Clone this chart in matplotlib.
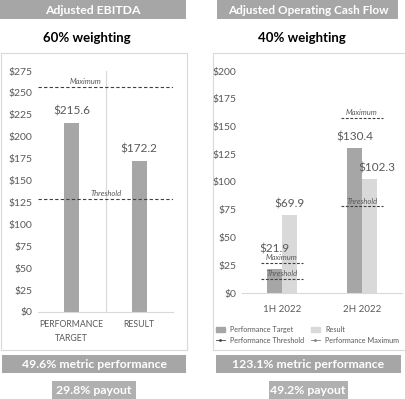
import matplotlib.pyplot as plt
from matplotlib.patches import Rectangle, Patch
from matplotlib.lines import Line2D

plt.rcParams['font.family'] = ['Lato', 'DejaVu Sans']

# EBITDA panel
ebitda_cats = ['PERFORMANCE\nTARGET', 'RESULT']
ebitda_vals = [215.6, 172.2]
ebitda_max = 257
ebitda_thr = 129

# operating cash flow panel
ocf_cats = ['1H 2022', '2H 2022']
ocf_target = [21.9, 130.4]
ocf_result = [69.9, 102.3]
ocf_thr = [13, 78]
ocf_max = [27, 158]

W, H = 405, 399
DARK = '#a6a6a6'
LIGHT = '#d9d9d9'
TXT = '#595959'

fig = plt.figure(figsize=(W / 100, H / 100), dpi=100)


def box(x0, y0, x1, y1, **kw):
    # pixel coords from top-left
    r = Rectangle((x0 / W, 1 - y1 / H), (x1 - x0) / W, (y1 - y0) / H,
                  transform=fig.transFigure, zorder=-5, **kw)
    fig.patches.append(r)


def label(x, y, s, **kw):
    fig.text(x / W, 1 - y / H, s, ha='center', va='center', **kw)


def axes_px(x0, y0, x1, y1):
    return fig.add_axes([x0 / W, 1 - y1 / H, (x1 - x0) / W, (y1 - y0) / H])


# frames and banners
box(0.5, 53, 187, 350, facecolor='white', edgecolor=LIGHT, lw=0.8)
box(213, 53, 404.5, 350, facecolor='white', edgecolor=LIGHT, lw=0.8)
box(0, 0, 186, 19, facecolor=DARK, lw=0)
box(217, 0, 398, 19, facecolor=DARK, lw=0)
box(2, 355, 186, 373, facecolor=DARK, lw=0)
box(216, 355, 401, 373, facecolor=DARK, lw=0)
box(52, 381, 136, 399, facecolor='#b0b0b0', lw=0)
box(269, 381, 348, 399, facecolor='#b0b0b0', lw=0)

label(93, 10, 'Adjusted EBITDA', color='white', fontsize=8.8, weight='bold')
label(308, 10, 'Adjusted Operating Cash Flow', color='white', fontsize=8.5, weight='bold')
label(87, 38, '60% weighting', fontsize=9.5, weight='bold')
label(302, 38, '40% weighting', fontsize=9.5, weight='bold')
label(94, 364, '49.6% metric performance', color='white', fontsize=8.8, weight='bold')
label(308, 364, '123.1% metric performance', color='white', fontsize=8.8, weight='bold')
label(94, 390, '29.8% payout', color='white', fontsize=8.8, weight='bold')
label(308, 390, '49.2% payout', color='white', fontsize=8.8, weight='bold')


def style(ax, ymax, step):
    ax.set_ylim(0, ymax)
    ax.set_xlim(-0.5, 1.5)
    ax.set_yticks(range(0, ymax + 1, step))
    ax.set_yticklabels([f'${v}' for v in range(0, ymax + 1, step)])
    for s in ['top', 'right', 'left']:
        ax.spines[s].set_visible(False)
    ax.spines['bottom'].set_color(LIGHT)
    ax.tick_params(axis='y', length=0, labelsize=7.5, colors=TXT, pad=4)
    ax.tick_params(axis='x', length=0, labelsize=6.3, colors=TXT, pad=6)
    ax.patch.set_alpha(0)


# left chart
ax1 = axes_px(38, 71, 173, 312)
style(ax1, 275, 25)
x1 = range(len(ebitda_cats))
ax1.axvline(0.5, color=LIGHT, lw=0.8)
ax1.bar(x1, ebitda_vals, width=0.22, color=DARK)
ax1.set_xticks(list(x1))
ax1.set_xticklabels(ebitda_cats, linespacing=1.6)
for xi, v in zip(x1, ebitda_vals):
    ax1.text(xi, v + 8, f'${v}', ha='center', va='bottom', fontsize=8.5, color=TXT)
ax1.axhline(ebitda_max, color='#404040', ls=(0, (3, 2)), lw=0.8)
ax1.axhline(ebitda_thr, color='#404040', ls=(0, (3, 2)), lw=0.8)
ax1.text(0.2, ebitda_max + 2, 'Maximum', ha='center', va='bottom',
         fontsize=5.5, style='italic', color=TXT)
ax1.text(0.51, ebitda_thr + 2, 'Threshold', ha='center', va='bottom',
         fontsize=5.5, style='italic', color=TXT)

# right chart
ax2 = axes_px(242, 71, 402, 293)
style(ax2, 200, 25)
bw = 0.1875
x2 = list(range(len(ocf_cats)))
ax2.bar([x - bw / 2 for x in x2], ocf_target, width=bw, color=DARK)
ax2.bar([x + bw / 2 for x in x2], ocf_result, width=bw, color=LIGHT)
ax2.set_xticks(x2)
ax2.set_xticklabels(ocf_cats, fontsize=7)
ax2.tick_params(axis='x', pad=9)
for xi, t, r in zip(x2, ocf_target, ocf_result):
    ty = max(t, ocf_max[xi]) + 8 if xi == 0 else t + 5
    ax2.text(xi - bw / 2, ty, f'${t}', ha='center', va='bottom', fontsize=8.5, color=TXT)
    dx = 0.19 if xi == 1 else 0
    ax2.text(xi + bw / 2 + dx * 0.5, r + 5, f'${r}', ha='center', va='bottom',
             fontsize=8.5, color=TXT)
for xi, lo, hi in zip(x2, ocf_thr, ocf_max):
    ax2.hlines([lo, hi], xi - 0.26, xi + 0.26, color='#404040', ls=(0, (2.5, 1.5)), lw=0.8)
    ax2.text(xi, lo + 1.5, 'Threshold', ha='center', va='bottom',
             fontsize=5.5, style='italic', color=TXT)
    ax2.text(xi, hi + 1.5, 'Maximum', ha='center', va='bottom',
             fontsize=5.5, style='italic', color=TXT)

col1 = [
    Patch(color=DARK, label='Performance Target'),
    Line2D([], [], color='#404040', lw=0.6, marker='.', ms=2, label='Performance Threshold'),
]
col2 = [
    Patch(color=LIGHT, label='Result'),
    Line2D([], [], color='#808080', lw=0.6, marker='.', ms=2, label='Performance Maximum'),
]
leg_kw = dict(loc='upper left', frameon=False, fontsize=5.2, labelcolor=TXT,
              handlelength=1.2, handleheight=0.6, handletextpad=0.8,
              labelspacing=0.5, borderpad=0, borderaxespad=0)
fig.legend(handles=col1, bbox_to_anchor=(216 / W, 1 - 326 / H), **leg_kw)
fig.legend(handles=col2, bbox_to_anchor=(311 / W, 1 - 326 / H), **leg_kw)

fig.savefig('out.png', dpi=100)
